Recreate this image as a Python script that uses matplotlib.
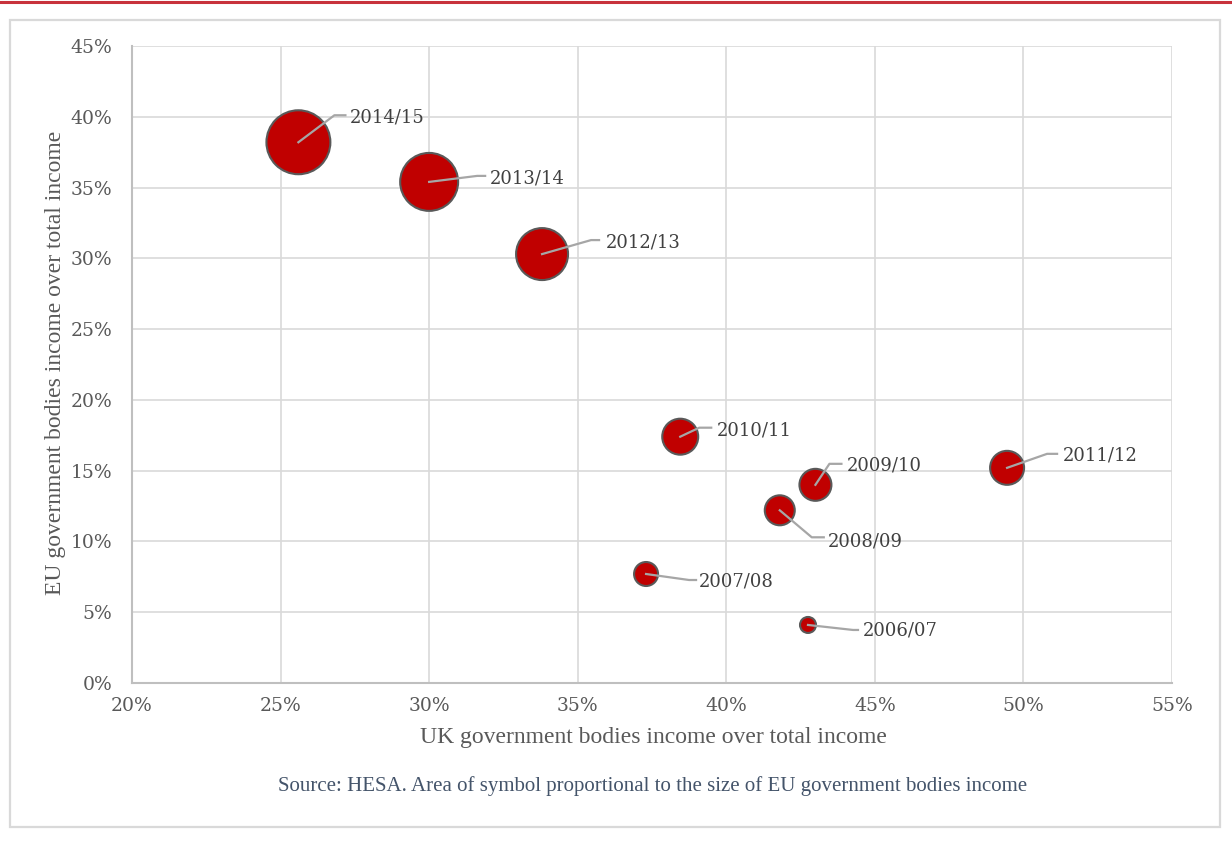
import numpy as np
import matplotlib.pyplot as plt
from matplotlib.patches import Rectangle
from matplotlib.lines import Line2D

# data
years = ["2014/15", "2013/14", "2012/13", "2010/11", "2009/10",
         "2008/09", "2011/12", "2007/08", "2006/07"]
uk_share = [25.6, 30.0, 33.8, 38.45, 43.0, 41.8, 49.45, 37.3, 42.75]   # % x
eu_share = [38.2, 35.4, 30.3, 17.4, 14.0, 12.2, 15.2, 7.7, 4.1]       # % y
eu_income = [1024, 841, 676, 324, 256, 225, 289, 144, 64]            # relative bubble area

# label leader offsets in pixels: elbow, end of leader, text anchor
label_offsets = {
    "2014/15": ((36, 27), (47, 27), (51, 25)),
    "2013/14": ((48, 6), (56, 6), (61, 3)),
    "2012/13": ((49, 14), (57, 14), (64, 12)),
    "2010/11": ((19, 9), (31, 9), (37, 6)),
    "2009/10": ((14, 21), (26, 21), (31, 19)),
    "2008/09": ((32, -27), (44, -27), (48, -31)),
    "2011/12": ((40, 14), (50, 14), (56, 12)),
    "2007/08": ((43, -6), (50, -6), (53, -7)),
    "2006/07": ((45, -5), (50, -5), (55, -6)),
}

x_ticks = [20, 25, 30, 35, 40, 45, 50, 55]
y_ticks = [0, 5, 10, 15, 20, 25, 30, 35, 40, 45]

W, H = 1232, 843
fig = plt.figure(figsize=(W / 100, H / 100), dpi=100)
fig.patch.set_facecolor("white")

# thin red rule at the top and the light frame around the chart
fig.add_artist(Line2D([0, 1], [1 - 2 / H, 1 - 2 / H], color="#c8323c", lw=2.2,
                      transform=fig.transFigure))
fig.add_artist(Rectangle((10 / W, 1 - 827 / H), 1210 / W, 807 / H, fill=False,
                         ec="#d9d9d9", lw=1.6, transform=fig.transFigure))

ax = fig.add_axes([132 / W, 1 - 683 / H, 1040 / W, 637 / H])
ax.set_xlim(20, 55)
ax.set_ylim(0, 45)
ax.set_xticks(x_ticks)
ax.set_yticks(y_ticks)
tick_font = dict(fontfamily="DejaVu Serif", fontsize=13.5, color="#595959")
ax.set_xticklabels([f"{t}%" for t in x_ticks], **tick_font)
ax.set_yticklabels([f"{t}%" for t in y_ticks], **tick_font)
ax.tick_params(length=0)
ax.tick_params(axis="x", pad=10)
ax.tick_params(axis="y", pad=14)

ax.grid(True, color="#d9d9d9", lw=1.2, zorder=0)
ax.set_axisbelow(True)
for s in ["top", "right"]:
    ax.spines[s].set_visible(False)
for s in ["left", "bottom"]:
    ax.spines[s].set_color("#bfbfbf")
    ax.spines[s].set_linewidth(1.5)

sizes = [v * 2.07 for v in eu_income]
ax.scatter(uk_share, eu_share, s=sizes, c="#c00000", edgecolors="#595959",
           linewidths=1.5, zorder=3)

fig.canvas.draw()
for yr, x, y in zip(years, uk_share, eu_share):
    px, py = ax.transData.transform((x, y))
    elbow, end, txt = label_offsets[yr]
    ax.add_line(Line2D([px, px + elbow[0], px + end[0]],
                       [py, py + elbow[1], py + end[1]],
                       color="#a6a6a6", lw=1.6, transform=None, zorder=4))
    ax.text(px + txt[0], py + txt[1], yr, transform=None, ha="left", va="center",
            fontsize=13, family="DejaVu Serif", color="#404040", zorder=5)

fig.text(653 / W, 1 - 737 / H, "UK government bodies income over total income",
         ha="center", va="center", fontsize=17, family="Liberation Serif",
         color="#595959")
fig.text(56 / W, 1 - 363 / H, "EU government bodies income over total income",
         ha="center", va="center", rotation=90, fontsize=17,
         family="Liberation Serif", color="#595959")
fig.text(653 / W, 1 - 786 / H,
         "Source: HESA. Area of symbol proportional to the size of EU government bodies income",
         ha="center", va="center", fontsize=15, family="Liberation Serif",
         color="#44546a")

fig.savefig("out.png", dpi=100)
